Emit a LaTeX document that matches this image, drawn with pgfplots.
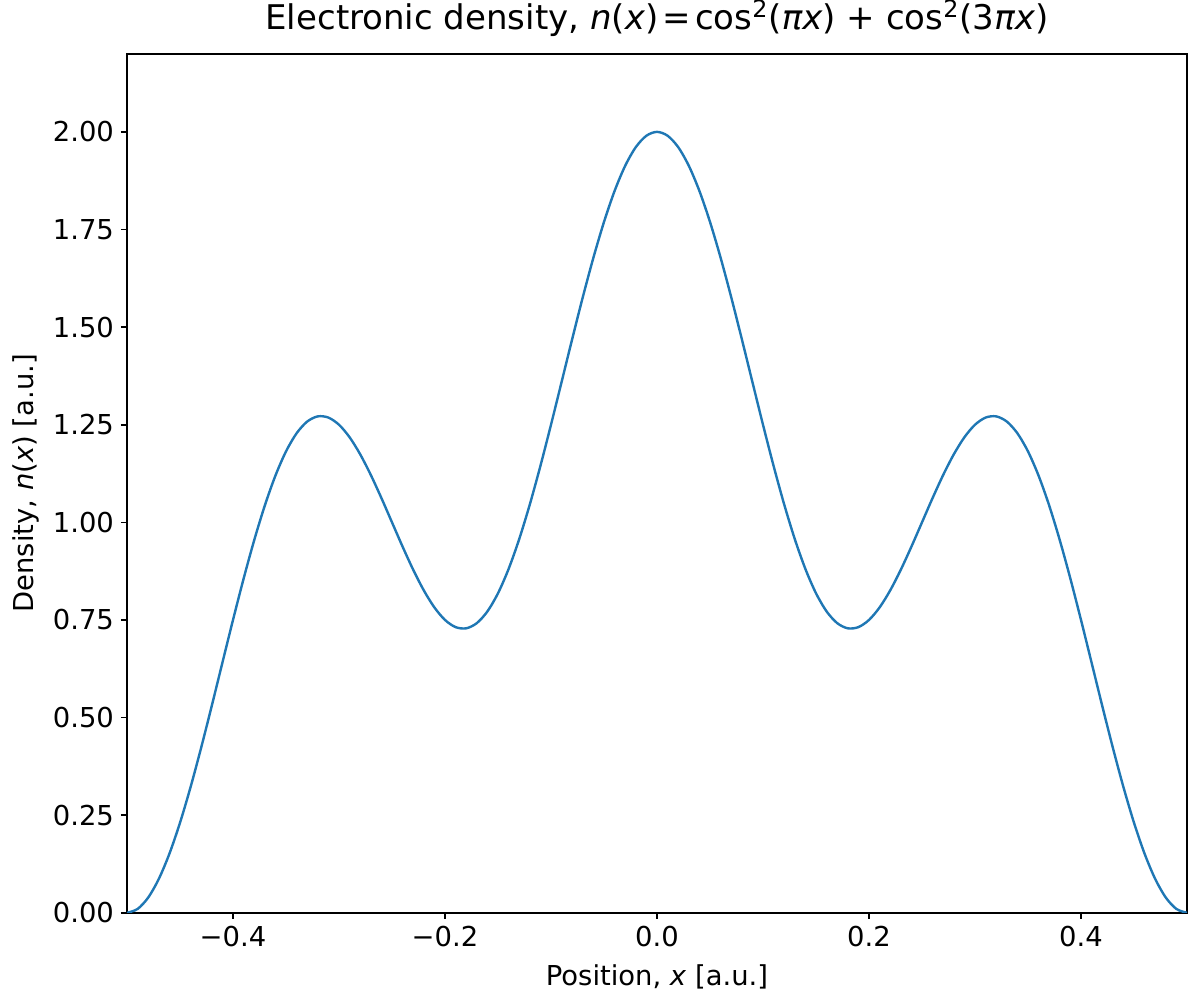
\documentclass[border=0pt]{standalone}
\usepackage{fontspec}
\setmainfont{DejaVu Sans}
\usepackage{pgfplots}
\pgfplotsset{compat=1.18}
\usepackage{pgfplotstable}
\definecolor{mplblue}{HTML}{1F77B4}
\pgfplotstableread{
x y
-0.50 0.00000
-0.49 0.00984
-0.48 0.03905
-0.47 0.08669
-0.46 0.15123
-0.45 0.23058
-0.44 0.32222
-0.43 0.42324
-0.42 0.53045
-0.41 0.64050
-0.40 0.75000
-0.39 0.85562
-0.38 0.95422
-0.37 1.04298
-0.36 1.11945
-0.35 1.18164
-0.34 1.22814
-0.33 1.25814
-0.32 1.27140
-0.31 1.26836
-0.30 1.25000
-0.29 1.21793
-0.28 1.17423
-0.27 1.12140
-0.26 1.06230
-0.25 1.00000
-0.24 0.93770
-0.23 0.87860
-0.22 0.82577
-0.21 0.78207
-0.20 0.75000
-0.19 0.73164
-0.18 0.72860
-0.17 0.74186
-0.16 0.77186
-0.15 0.81836
-0.14 0.88055
-0.13 0.95702
-0.12 1.04578
-0.11 1.14438
-0.10 1.25000
-0.09 1.35950
-0.08 1.46955
-0.07 1.57676
-0.06 1.67778
-0.05 1.76942
-0.04 1.84877
-0.03 1.91331
-0.02 1.96095
-0.01 1.99016
0.00 2.00000
0.01 1.99016
0.02 1.96095
0.03 1.91331
0.04 1.84877
0.05 1.76942
0.06 1.67778
0.07 1.57676
0.08 1.46955
0.09 1.35950
0.10 1.25000
0.11 1.14438
0.12 1.04578
0.13 0.95702
0.14 0.88055
0.15 0.81836
0.16 0.77186
0.17 0.74186
0.18 0.72860
0.19 0.73164
0.20 0.75000
0.21 0.78207
0.22 0.82577
0.23 0.87860
0.24 0.93770
0.25 1.00000
0.26 1.06230
0.27 1.12140
0.28 1.17423
0.29 1.21793
0.30 1.25000
0.31 1.26836
0.32 1.27140
0.33 1.25814
0.34 1.22814
0.35 1.18164
0.36 1.11945
0.37 1.04298
0.38 0.95422
0.39 0.85562
0.40 0.75000
0.41 0.64050
0.42 0.53045
0.43 0.42324
0.44 0.32222
0.45 0.23058
0.46 0.15123
0.47 0.08669
0.48 0.03905
0.49 0.00984
0.50 0.00000
}\density
\begin{document}
\begin{tikzpicture}
\useasboundingbox (-63.5pt,-39.2pt) rectangle (531pt,456.4pt);
\begin{axis}[
  anchor=south west,
  at={(0pt,0pt)},
  scale only axis,
  width=530pt, height=429.5pt,
  xmin=-0.5, xmax=0.5, ymin=0, ymax=2.2,
  axis line style={line width=0.8pt, black},
  tick style={line width=0.8pt, black},
  tick align=outside,
  major tick length=3pt,
  xtick pos=bottom, ytick pos=left,
  xtick={-0.4,-0.2,0,0.2,0.4},
  xticklabels={−0.4,−0.2,0.0,0.2,0.4},
  ytick={0,0.25,0.5,0.75,1,1.25,1.5,1.75,2},
  yticklabels={0.00,0.25,0.50,0.75,1.00,1.25,1.50,1.75,2.00},
  ticklabel style={font=\fontsize{13.7}{16}\selectfont},
  title={Electronic density, \textit{n}(\textit{x})\hspace{0.12em}=\hspace{0.12em}cos\textsuperscript{2}(\textit{πx}) + cos\textsuperscript{2}(3\textit{πx})},
  title style={font=\fontsize{17}{20}\selectfont, at={(0.5,1)}, anchor=base, yshift=6pt},
  xlabel={Position, \textit{x} [a.u.]},
  xlabel style={font=\fontsize{13.7}{16}\selectfont, at={(0.5,0)}, anchor=base, yshift=-36.2pt},
  ylabel={Density, \textit{n}(\textit{x}) [a.u.]},
  ylabel style={font=\fontsize{13.7}{16}\selectfont, at={(-0.0953,0.5)}, anchor=center},
]
\addplot[mplblue, line width=1.2pt, smooth] table[x=x,y=y] {\density};
\end{axis}
\end{tikzpicture}
\end{document}
